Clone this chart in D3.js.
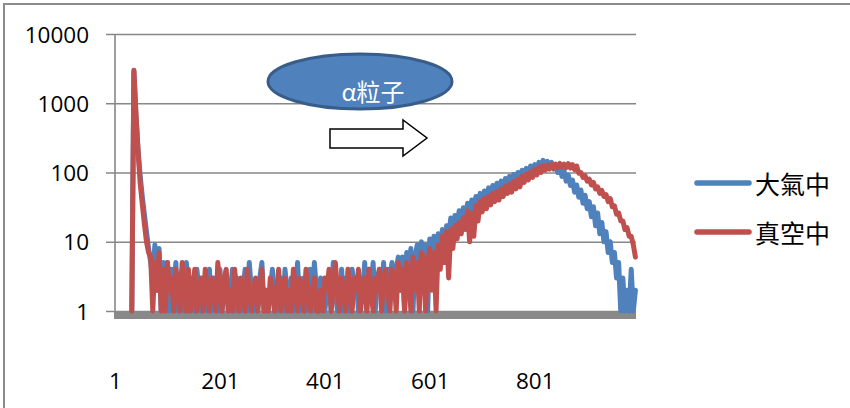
<!DOCTYPE html>
<html><head><meta charset="utf-8">
<script src="https://cdn.jsdelivr.net/npm/d3@7"></script>
<style>html,body{margin:0;padding:0;background:#fff;}svg{display:block;}</style>
</head><body>
<svg id="chart" width="850" height="408"></svg>
<script>
// ---- data ----
const channelStart = 33;   // first channel with counts
const channelStep = 4;     // channel spacing of the samples
const xTickLabels = [1, 201, 401, 601, 801];
const yTickValues = [1, 10, 100, 1000, 10000];
const seriesNames = ["大氣中", "真空中"];
const annotation = "α粒子";

// 大氣中 (in air)
const airCounts = [
  1,
  2900,650,210,90,45,25,14,8,
  5,3,9,2,8,1,5,2,5,1,
  4,2,5,1,3,4,1,5,2,1,
  3,1,4,2,1,3,2,1,4,1,
  3,2,1,4,1,2,3,1,2,4,
  1,3,2,1,2,4,1,5,2,1,
  2,1,3,5,1,2,1,2,4,1,
  1,2,3,1,4,2,1,3,1,2,
  5,1,2,3,1,2,4,1,5,2,
  1,3,2,1,2,3,1,5,2,1,
  2,4,1,3,2,1,4,2,3,1,
  3,2,5,1,4,2,5,1,3,4,
  2,5,1,4,3,5,2,4,6,2,
  6,1,7,3,8,1,6,9,2,10,
  4,9,1,11,5,12,3,13,8,15,
  9,17,12,22,14,24,17,28,20,31,
  22,36,25,40,30,45,33,50,36,54,
  42,60,46,65,52,70,56,75,60,82,
  66,88,70,94,76,100,80,108,88,115,
  95,124,102,130,110,140,118,150,122,145,
  118,140,112,130,100,120,88,105,75,92,
  65,78,52,66,44,56,36,47,30,38,
  23,32,17,26,13,19,10,14,7,10,
  5,7,3,5,1,3,1,2,1,4,
  1,2
];
// 真空中 (in vacuum)
const vacuumCounts = [
  1,
  3000,700,200,70,35,18,10,7,
  6,1,5,2,7,1,4,1,5,2,
  3,1,4,2,1,5,2,1,4,1,
  2,4,1,2,3,1,4,2,1,3,
  2,1,5,2,1,3,4,1,2,1,
  4,2,1,3,2,1,4,2,1,2,
  3,1,2,4,1,2,1,3,2,1,
  2,4,1,2,3,1,2,1,4,2,
  1,3,2,1,4,2,1,2,3,1,
  1,2,1,3,2,4,1,2,5,2,
  1,3,2,1,4,2,1,3,2,4,
  1,2,3,1,4,2,1,3,2,4,
  1,3,4,2,1,4,3,1,5,2,
  4,1,5,3,1,6,2,5,1,7,
  6,1,5,8,2,7,1,9,4,12,
  5,14,3,15,8,17,11,19,13,22,
  15,28,10,26,12,33,20,38,27,42,
  30,45,34,50,38,53,40,58,45,63,
  50,68,52,74,58,80,62,88,72,95,
  78,102,85,110,92,120,100,125,108,128,
  112,130,115,132,118,135,120,132,118,134,
  116,130,110,124,98,100,85,90,75,80,
  66,72,58,62,50,55,45,48,38,42,
  32,33,25,26,20,20,15,16,12,12,
  9,6
];

// ---- drawing ----
const svg = d3.select("#chart");
const colors = ["#4F81BD", "#C0504D"];
const gridColor = "#878787";
const numFont = "'Open Sans', 'Liberation Sans', sans-serif";
const cjkFont = "'Noto Sans CJK TC', 'Noto Sans CJK SC', sans-serif";

const x = d3.scaleLinear().domain([1, 996]).range([115, 637]);
const y = d3.scaleLog().domain([1, 10000]).range([311, 34]);

// outer frame
svg.append("rect").attr("x", 4).attr("y", 4).attr("width", 900).attr("height", 500)
  .attr("fill", "none").attr("stroke", "#8c8c8c").attr("stroke-width", 2);

// gridlines + y axis
const yAxis = d3.axisLeft(y).tickValues(yTickValues)
  .tickSize(-(636 - 115)).tickPadding(0).tickFormat("");
const gy = svg.append("g").attr("transform", "translate(115,0)").call(yAxis);
gy.select(".domain").remove();
gy.selectAll(".tick line").attr("stroke", gridColor).attr("stroke-width", 1.6)
  .attr("x1", -9);
svg.append("line").attr("x1", 115).attr("x2", 115).attr("y1", 34).attr("y2", 319)
  .attr("stroke", gridColor).attr("stroke-width", 1.6);

// y tick labels
svg.append("g").selectAll("text").data(yTickValues).join("text")
  .attr("x", 89).attr("y", d => y(d))
  .attr("text-anchor", "end").attr("dominant-baseline", "central")
  .attr("font-family", numFont).attr("font-size", 22.5).attr("fill", "#000")
  .text(d => d);

// thick x axis band
svg.append("rect").attr("x", 114).attr("y", 311.5).attr("width", 636 - 114).attr("height", 7.5)
  .attr("fill", "#898989");

// x tick labels
const xAxis = d3.axisBottom(x).tickValues(xTickLabels).tickSize(0).tickPadding(0).tickFormat(d => d);
const gx = svg.append("g").attr("transform", "translate(0,380)").call(xAxis);
gx.select(".domain").remove();
gx.selectAll("text").attr("font-family", numFont).attr("font-size", 22.5).attr("fill", "#000")
  .attr("dy", null).attr("y", 0).attr("dominant-baseline", "central");

// series
const line = d3.line()
  .x((d, i) => x(channelStart + i * channelStep))
  .y(d => y(Math.max(1, d)));
[airCounts, vacuumCounts].forEach((s, k) => {
  svg.append("path").datum(s).attr("d", line)
    .attr("fill", "none").attr("stroke", colors[k]).attr("stroke-width", 5)
    .attr("stroke-linejoin", "round").attr("stroke-linecap", "round");
});

// annotation ellipse
svg.append("ellipse").attr("cx", 360).attr("cy", 81.5).attr("rx", 92).attr("ry", 27.5)
  .attr("fill", "#4F81BD").attr("stroke", "#385D8A").attr("stroke-width", 3);
svg.append("text").attr("x", 373).attr("y", 90).attr("text-anchor", "middle")
  .attr("dominant-baseline", "central").attr("font-family", cjkFont)
  .attr("font-size", 24).attr("fill", "#fff").text(annotation);

// block arrow
svg.append("polygon")
  .attr("points", "330,129 403,129 403,120 427,138 403,156 403,148 330,148")
  .attr("fill", "#fff").attr("stroke", "#000").attr("stroke-width", 1.5);

// legend
const lg = svg.append("g");
seriesNames.forEach((n, k) => {
  const ly = 183 + k * 49;
  lg.append("line").attr("x1", 697).attr("x2", 749).attr("y1", ly).attr("y2", ly)
    .attr("stroke", colors[k]).attr("stroke-width", 5.5).attr("stroke-linecap", "round");
  lg.append("text").attr("x", 755).attr("y", ly).attr("dominant-baseline", "central")
    .attr("font-family", cjkFont).attr("font-size", 25).attr("fill", "#000").text(n);
});
</script>
</body></html>
